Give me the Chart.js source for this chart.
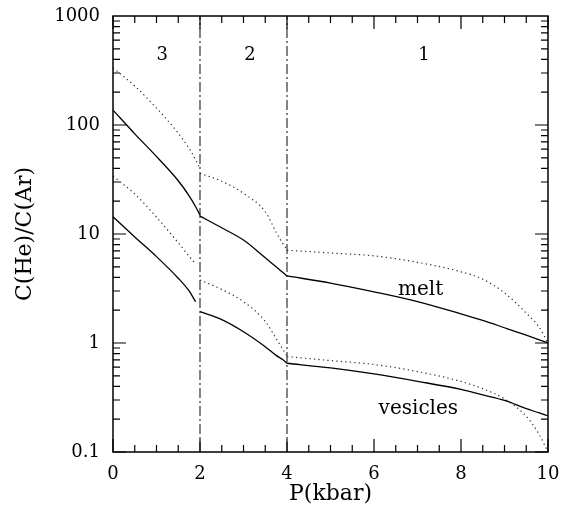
<!DOCTYPE html>
<html>
<head>
<meta charset="utf-8">
<script src="https://cdn.jsdelivr.net/npm/chart.js@4/dist/chart.umd.min.js"></script>
<style>
  html, body { margin: 0; padding: 0; background: #fff; }
  #wrap { width: 570px; height: 515px; position: relative; }
</style>
</head>
<body>
<div id="wrap"><canvas id="chart"></canvas></div>
<script>
// region 3 : 0 - 2 kbar
const p3 = [0, 0.5, 1.0, 1.5, 1.75, 1.9, 2.0];
const melt3 = [137, 83, 51.4, 30.8, 22.4, 17.8, 14.9];
const meltDot3 = [335, 228, 143, 84, 61, 48, 40];
const p3v = [0, 0.5, 1.0, 1.5, 1.75, 1.9];
const ves3 = [14.4, 9.4, 6.2, 3.93, 3.0, 2.39];
const vesDot3 = [34, 23.3, 14.3, 8.3, 6.25, 5.3];

// region 2 : 2 - 4 kbar
const p2 = [2, 2.5, 3, 3.5, 3.75, 3.9, 4];
const melt2 = [14.6, 11.4, 8.8, 6.05, 5.0, 4.46, 4.12];
const meltDot2 = [36, 30.5, 23.6, 16.0, 10.4, 8.2, 7.2];
const ves2 = [1.94, 1.64, 1.27, 0.925, 0.77, 0.705, 0.652];
const vesDot2 = [3.79, 3.1, 2.39, 1.58, 1.1, 0.88, 0.76];

// region 1 : 4 - 10 kbar
const p1 = [4, 5, 6, 7, 8, 8.5, 9, 9.5, 9.8, 10];
const melt1 = [4.12, 3.55, 2.95, 2.4, 1.85, 1.61, 1.38, 1.18, 1.07, 1.0];
const meltDot1 = [7.1, 6.7, 6.3, 5.5, 4.5, 3.85, 2.88, 1.88, 1.39, 1.0];
const ves1 = [0.652, 0.59, 0.52, 0.445, 0.375, 0.334, 0.297, 0.25, 0.228, 0.214];
const vesDot1 = [0.75, 0.69, 0.635, 0.547, 0.444, 0.381, 0.307, 0.213, 0.144, 0.1];

// region boundaries (dash-dot verticals)
const boundaries = [2, 4];

// axes
const xTicks = [0, 2, 4, 6, 8, 10];
const yTicks = [0.1, 1, 10, 100, 1000];

// text inside the plot
const regionNames = ['3', '2', '1'];
const regionNameX = [1.13, 3.15, 7.15];
const regionNameY = 440;
const curveNames = ['melt', 'vesicles'];
const curveNameX = [7.07, 7.02];
const curveNameY = [3.06, 0.248];

const SERIF = '"DejaVu Serif", "Liberation Serif", serif';

function curve(xs, ys, dotted) {
    return {
        data: xs.map((x, i) => ({ x: x, y: ys[i] })),
        borderColor: dotted ? '#333' : '#000',
        borderWidth: dotted ? 1.2 : 1.3,
        borderDash: dotted ? [1.3, 3.2] : [],
        pointRadius: 0,
        cubicInterpolationMode: 'monotone',
        fill: false
    };
}

const datasets = [
    curve(p3, melt3, false), curve(p3, meltDot3, true),
    curve(p3v, ves3, false), curve(p3v, vesDot3, true),
    curve(p2, melt2, false), curve(p2, meltDot2, true),
    curve(p2, ves2, false), curve(p2, vesDot2, true),
    curve(p1, melt1, false), curve(p1, meltDot1, true),
    curve(p1, ves1, false), curve(p1, vesDot1, true)
];

boundaries.forEach(b => {
    datasets.push({
        data: [{ x: b, y: yTicks[0] }, { x: b, y: yTicks[yTicks.length - 1] }],
        borderColor: '#333',
        borderWidth: 1.2,
        borderDash: [10, 3, 2, 3],
        pointRadius: 0,
        fill: false
    });
});

// frame, inward ticks on all four sides and the text labels
const framePlugin = {
    id: 'frame',
    afterDatasetsDraw(chart) {
        const ctx = chart.ctx;
        const a = chart.chartArea;
        const xs = chart.scales.x;
        const ys = chart.scales.y;
        ctx.save();
        ctx.strokeStyle = '#000';
        ctx.lineWidth = 1.5;
        ctx.strokeRect(a.left, a.top, a.right - a.left, a.bottom - a.top);

        ctx.lineWidth = 1.2;
        ctx.beginPath();
        for (let v = 0; v <= 10.001; v += 0.5) {
            const px = xs.getPixelForValue(v);
            const len = (Math.round(v * 2) % 4 === 0) ? 13 : 7;
            ctx.moveTo(px, a.bottom); ctx.lineTo(px, a.bottom - len);
            ctx.moveTo(px, a.top); ctx.lineTo(px, a.top + len);
        }
        for (let k = -1; k < 3; k++) {
            for (let m = 1; m <= 9; m++) {
                const py = ys.getPixelForValue(m * Math.pow(10, k));
                const len = m === 1 ? 13 : 7;
                ctx.moveTo(a.left, py); ctx.lineTo(a.left + len, py);
                ctx.moveTo(a.right, py); ctx.lineTo(a.right - len, py);
            }
        }
        ctx.stroke();

        ctx.fillStyle = '#000';
        ctx.textAlign = 'center';
        ctx.textBaseline = 'middle';
        ctx.font = '18px ' + SERIF;
        regionNames.forEach((t, i) => {
            ctx.fillText(t, xs.getPixelForValue(regionNameX[i]), ys.getPixelForValue(regionNameY));
        });
        ctx.font = '20px ' + SERIF;
        curveNames.forEach((t, i) => {
            ctx.fillText(t, xs.getPixelForValue(curveNameX[i]), ys.getPixelForValue(curveNameY[i]));
        });
        ctx.restore();
    }
};

new Chart(document.getElementById('chart'), {
    type: 'line',
    data: { datasets: datasets },
    options: {
        responsive: true,
        maintainAspectRatio: false,
        animation: false,
        layout: { padding: { top: 16, right: 22, left: 0, bottom: 0 } },
        plugins: { legend: { display: false }, tooltip: { enabled: false } },
        scales: {
            x: {
                type: 'linear',
                min: 0,
                max: 10,
                afterBuildTicks: s => { s.ticks = xTicks.map(v => ({ value: v })); },
                afterFit: s => { s.height = 63; s.paddingLeft = 0; s.paddingRight = 0; },
                grid: { display: false, drawTicks: false },
                border: { display: false },
                ticks: { color: '#000', padding: 12, maxRotation: 0, font: { family: SERIF, size: 18 } },
                title: { display: true, text: 'P(kbar)', color: '#000', padding: { top: 0, bottom: 8 }, font: { family: SERIF, size: 22 } }
            },
            y: {
                type: 'logarithmic',
                min: 0.1,
                max: 1000,
                afterBuildTicks: s => { s.ticks = yTicks.map(v => ({ value: v })); },
                afterFit: s => { s.width = 113; s.paddingTop = 0; s.paddingBottom = 0; },
                grid: { display: false, drawTicks: false },
                border: { display: false },
                ticks: {
                    color: '#000', padding: 13,
                    font: { family: SERIF, size: 18 },
                    callback: v => String(v)
                },
                title: { display: true, text: 'C(He)/C(Ar)', color: '#000', padding: { top: 12, bottom: 0 }, font: { family: SERIF, size: 22 } }
            }
        }
    },
    plugins: [framePlugin]
});
</script>
</body>
</html>
